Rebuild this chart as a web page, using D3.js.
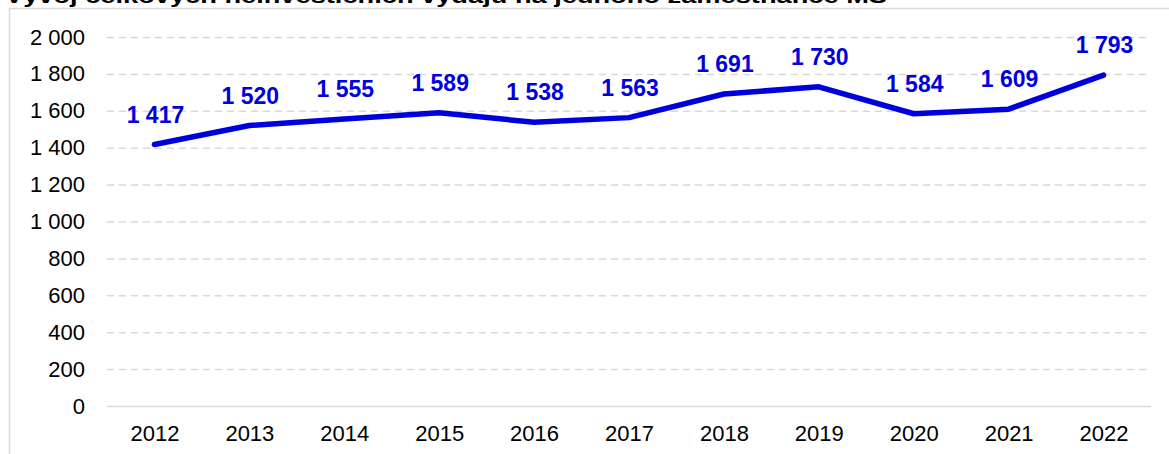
<!DOCTYPE html>
<html><head><meta charset="utf-8">
<script src="https://cdn.jsdelivr.net/npm/d3@7"></script>
<style>html,body{margin:0;padding:0;background:#fff;}svg{display:block;}</style>
</head><body>
<svg id="c" width="1169" height="454"></svg>
<script>
const titleText = "Vývoj celkových neinvestičních výdajů na jednoho zaměstnance MŠ";
const years = ["2012","2013","2014","2015","2016","2017","2018","2019","2020","2021","2022"];
const values = [1417,1520,1555,1589,1538,1563,1691,1730,1584,1609,1793];
const yTicks = [0,200,400,600,800,1000,1200,1400,1600,1800,2000];

const svg = d3.select("#c");
const W = 1169, H = 454;
const fontFam = "'Liberation Sans', Arial, Helvetica, sans-serif";
const blue = "#0000dd";
const plotL = 107, plotR = 1151, plotT = 37, plotB = 406;

const loc = d3.formatLocale({decimal: ",", thousands: "\u00a0", grouping: [3], currency: ["", ""]});
const fmt = loc.format(",d");

// frame
svg.append("path").attr("d", `M9.5,${H} V8.5 H${W}`).attr("fill","none").attr("stroke","#d9d9d9").attr("stroke-width",1.5);

// title (cut off at top, as in the reference)
svg.append("text").attr("x",5).attr("y",3).attr("font-family",fontFam).attr("font-weight","bold")
  .attr("font-size",21).attr("fill","#000").attr("textLength",882).attr("lengthAdjust","spacingAndGlyphs").text(titleText);

const x = d3.scalePoint().domain(years).range([plotL, plotR]).padding(0.5);
const y = d3.scaleLinear().domain([0,2000]).range([plotB, plotT]);

// gridlines
const gy = svg.append("g").attr("transform",`translate(${plotL},0)`)
  .call(d3.axisLeft(y).tickValues(yTicks).tickSize(-(plotR-plotL)).tickFormat(fmt).tickPadding(22));
gy.select(".domain").remove();
gy.selectAll(".tick line").attr("stroke","#d9d9d9").attr("stroke-width",1.5)
  .attr("stroke-dasharray", d => d === 0 ? null : "7,5");
gy.selectAll(".tick text").attr("font-family",fontFam).attr("font-size",22).attr("fill","#000");

// x axis
const gx = svg.append("g").attr("transform",`translate(0,${plotB})`)
  .call(d3.axisBottom(x).tickSize(0).tickPadding(19));
gx.select(".domain").remove();
gx.selectAll(".tick text").attr("font-family",fontFam).attr("font-size",22).attr("fill","#000");

// line
const line = d3.line().x((d,i) => x(years[i])).y(d => y(d));
svg.append("path").datum(values).attr("d", line).attr("fill","none")
  .attr("stroke",blue).attr("stroke-width",5.5).attr("stroke-linejoin","round").attr("stroke-linecap","round");

// labels
svg.append("g").selectAll("text").data(values).join("text")
  .attr("x",(d,i) => x(years[i]) + 1).attr("y", d => y(d) - 22)
  .attr("text-anchor","middle").attr("font-family",fontFam).attr("font-weight","bold")
  .attr("font-size",23).attr("fill",blue).text(d => fmt(d));
</script>
</body></html>
